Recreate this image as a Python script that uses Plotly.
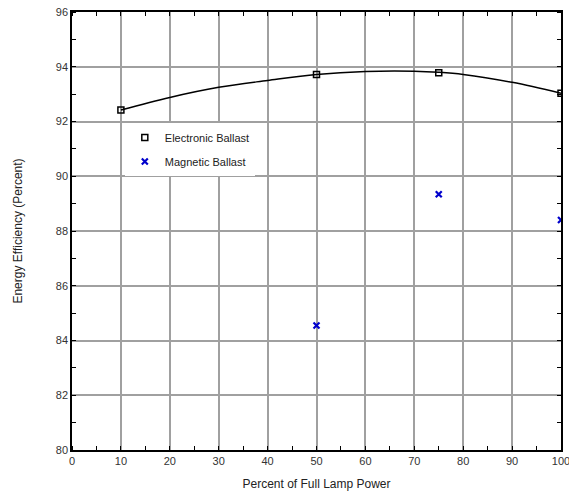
import plotly.graph_objects as go

# Measured points
elec_x = [10, 50, 75, 100]
elec_y = [92.42, 93.72, 93.78, 93.03]
mag_x = [50, 75, 100]
mag_y = [84.55, 89.34, 88.4]

# Fitted curve
fit_x = [10, 20, 30, 40, 50, 60, 70, 75, 80, 90, 100]
fit_y = [92.42, 92.88, 93.25, 93.5, 93.72, 93.83, 93.84, 93.8, 93.72, 93.43, 93.03]

x_ticks = list(range(0, 101, 10))
y_ticks = list(range(80, 97, 2))

fig = go.Figure()
fig.add_trace(go.Scatter(x=fit_x, y=fit_y, mode="lines", line=dict(color="black", width=1.5, shape="spline"),
                         showlegend=False, hoverinfo="skip"))
fig.add_trace(go.Scatter(x=elec_x, y=elec_y, mode="markers", name="Electronic Ballast", legendgroup="a",
                         marker=dict(symbol="square-open", size=6, color="black", line=dict(width=1.5))))
fig.add_trace(go.Scatter(x=mag_x, y=mag_y, mode="markers", name="Magnetic Ballast", legendgroup="b",
                         marker=dict(symbol="x-thin-open", size=6, color="#0000cc", line=dict(width=2.2, color="#0000cc"))))

axis_common = dict(
    showline=True, linecolor="black", linewidth=1.5, mirror="ticks",
    showgrid=True, gridcolor="#a0a0a0", gridwidth=1.5,
    ticks="", zeroline=False, automargin=False,
    tickfont=dict(family="Liberation Sans, Arial", size=11, color="#333"),
    title_font=dict(family="Liberation Sans, Arial", size=12, color="#222"),
)

fig.update_layout(
    width=584, height=495,
    margin=dict(l=72, r=23, t=12, b=45),
    paper_bgcolor="white", plot_bgcolor="white",
    font=dict(family="Liberation Sans, Arial", size=11, color="#222"),
    xaxis=dict(range=[0, 100], tickvals=x_ticks, title=dict(text="Percent of Full Lamp Power", standoff=14),
               minor=dict(ticks="inside", dtick=5, tick0=0, ticklen=4, tickcolor="black", showgrid=False),
               **axis_common),
    yaxis=dict(range=[80, 96], tickvals=y_ticks, title=dict(text="Energy Efficiency (Percent)", standoff=31),
               minor=dict(ticks="inside", dtick=1, tick0=80, ticklen=4, tickcolor="black", showgrid=False),
               **axis_common),
    legend=dict(x=0.108, y=0.7466, xanchor="left", yanchor="top", bgcolor="white",
                font=dict(family="Liberation Sans, Arial", size=11, color="#222"),
                tracegroupgap=5),
    showlegend=True,
)

fig.write_html("out.html", config={"displayModeBar": False},
               post_script="document.body.style.margin='0';document.body.style.overflow='hidden';")
